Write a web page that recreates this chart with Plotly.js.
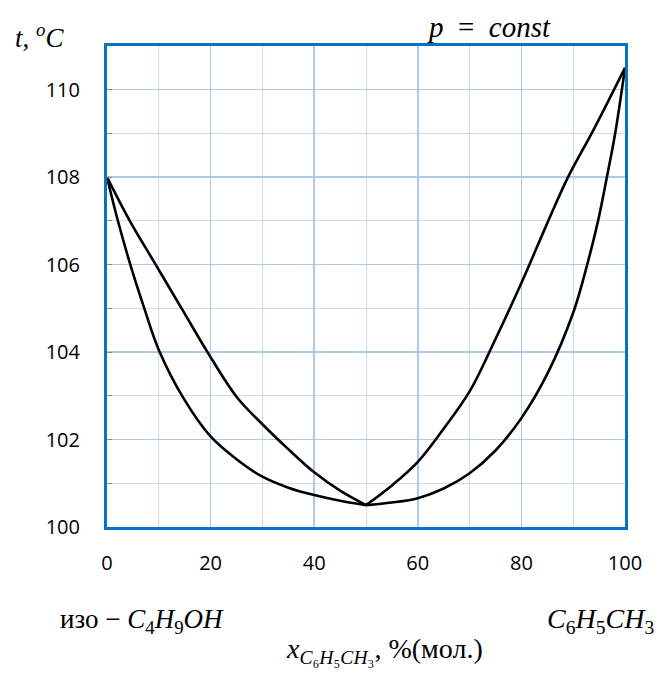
<!DOCTYPE html>
<html>
<head>
<meta charset="utf-8">
<script src="https://cdn.plot.ly/plotly-3.0.1.min.js"></script>
<style>html,body{margin:0;padding:0;background:#fff;}#chart{width:659px;height:673px;}</style>
</head>
<body>
<div id="chart"></div>
<script>
// Liquid (boiling) curve, left and right branches (x = mol % toluene, y = t, °C)
var liqLeftX  = [0, 2, 4.5, 7.2, 10, 15, 20, 25, 30, 35, 40, 45, 50];
var liqLeftY  = [108, 107.05, 106, 105, 104.05, 102.9, 102.07, 101.55, 101.15, 100.9, 100.73, 100.6, 100.5];
var liqRightX = [50, 55, 60, 65, 70, 75, 80, 85, 90, 92.7, 94.8, 96.5, 98.1, 100];
var liqRightY = [100.5, 100.56, 100.66, 100.88, 101.23, 101.75, 102.49, 103.5, 104.9, 106, 107, 108, 109, 110.5];
// Vapour (dew) curve, left and right branches
var vapLeftX  = [0, 4.4, 9.4, 14.4, 19.4, 25, 30, 35, 40, 45, 50];
var vapLeftY  = [108, 107, 106, 105, 104, 102.98, 102.35, 101.78, 101.25, 100.83, 100.5];
var vapRightX = [50, 55, 60, 65, 70, 75, 80, 85, 89, 94, 100];
var vapRightY = [100.5, 100.95, 101.49, 102.25, 103.1, 104.3, 105.58, 106.95, 108, 109.1, 110.5];

var xTicks = [0, 20, 40, 60, 80, 100];
var yTicks = [100, 102, 104, 106, 108, 110];

var line = {color: '#000000', width: 2.6, shape: 'spline', smoothing: 1};
function tr(x, y) { return {x: x, y: y, type: 'scatter', mode: 'lines', line: line, hoverinfo: 'skip', showlegend: false}; }
var data = [tr(liqLeftX, liqLeftY), tr(liqRightX, liqRightY), tr(vapLeftX, vapLeftY), tr(vapRightX, vapRightY)];

var serif = 'Liberation Serif, serif';
var axisColor = '#0a72c4';
var layout = {
  width: 659, height: 673,
  margin: {l: 107, r: 34, t: 46, b: 146, pad: 0},
  paper_bgcolor: '#ffffff', plot_bgcolor: '#ffffff',
  showlegend: false,
  font: {family: 'Open Sans, sans-serif', size: 20, color: '#000000'},
  xaxis: {
    range: [0, 100], tickvals: xTicks, ticktext: xTicks.map(String),
    showgrid: true, gridcolor: '#adc8ea', gridwidth: 1.5,
    minor: {dtick: 10, showgrid: true, gridcolor: '#cadcf2', gridwidth: 1},
    showline: true, linecolor: axisColor, linewidth: 3, mirror: true,
    ticks: '', zeroline: false, ticklabelstandoff: 16,
    tickfont: {family: 'Open Sans, sans-serif', size: 20, color: '#000'}
  },
  yaxis: {
    range: [100, 111], tickvals: yTicks, ticktext: yTicks.map(String),
    showgrid: true, gridcolor: '#adc8ea', gridwidth: 1.5,
    minor: {dtick: 1, showgrid: true, gridcolor: '#cadcf2', gridwidth: 1, ticks: 'inside', ticklen: 5, tickcolor: '#8c8c8c'},
    ticks: 'inside', ticklen: 5, tickcolor: '#8c8c8c',
    showline: true, linecolor: axisColor, linewidth: 3, mirror: true,
    zeroline: false, ticklabelstandoff: 20,
    tickfont: {family: 'Open Sans, sans-serif', size: 20, color: '#000'}
  },
  annotations: [
    {text: '<i>t</i>, <sup><i>o</i></sup><i>C</i>', xref: 'paper', yref: 'paper', x: -0.131, y: 1.02,
     xanchor: 'center', yanchor: 'middle', showarrow: false, font: {family: serif, size: 27, color: '#000'}},
    {text: '<i>p</i>\u2002=\u2002<i>const</i>', xref: 'paper', yref: 'paper', x: 0.737, y: 1.04,
     xanchor: 'center', yanchor: 'middle', showarrow: false, font: {family: serif, size: 29, color: '#000'}},
    {text: 'изо − <i>C</i><sub>4</sub><i>H</i><sub>9</sub><i>OH</i>', xref: 'paper', yref: 'paper', x: 0.068, y: -0.195,
     xanchor: 'center', yanchor: 'middle', showarrow: false, font: {family: serif, size: 27, color: '#000'}},
    {text: '<i>C</i><sub>6</sub><i>H</i><sub>5</sub><i>CH</i><sub>3</sub>', xref: 'paper', yref: 'paper', x: 0.952, y: -0.195,
     xanchor: 'center', yanchor: 'middle', showarrow: false, font: {family: serif, size: 28, color: '#000'}},
    {text: '<i>x</i><sub><i>C</i>₆<i>H</i>₅<i>CH</i>₃</sub>, %(мол.)', xref: 'paper', yref: 'paper', x: 0.535, y: -0.257,
     xanchor: 'center', yanchor: 'middle', showarrow: false, font: {family: serif, size: 28, color: '#000'}}
  ]
};
Plotly.newPlot('chart', data, layout, {displayModeBar: false, staticPlot: true});
</script>
</body>
</html>
